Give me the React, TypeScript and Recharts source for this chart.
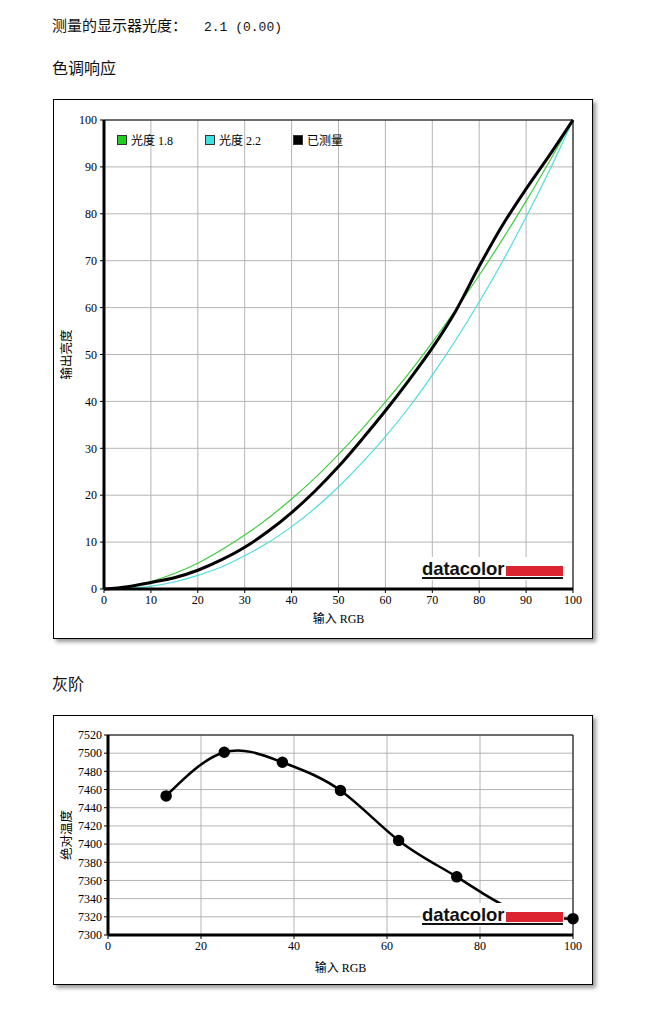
import React from 'react';
import { LineChart, Line, XAxis, YAxis, CartesianGrid, ReferenceLine } from 'recharts';

// Tone response: input RGB % vs output luminance %, two reference gammas + measured.
const INPUT = [0, 5, 10, 15, 20, 25, 30, 35, 40, 45, 50, 55, 60, 65, 70, 75, 80, 85, 90, 95, 100];
const GAMMA_18 = [0, 0.5, 1.6, 3.3, 5.5, 8.3, 11.5, 15.1, 19.2, 23.7, 28.7, 34.1, 39.9, 46.0, 52.6, 59.6, 66.9, 74.6, 82.7, 91.2, 100];
const GAMMA_22 = [0, 0.1, 0.6, 1.5, 2.9, 4.7, 7.1, 9.9, 13.3, 17.2, 21.8, 26.9, 32.5, 38.7, 45.6, 53.1, 61.2, 69.9, 79.3, 89.3, 100];
const MEASURED = [0, 0.5, 1.4, 2.4, 4.0, 6.2, 8.9, 12.3, 16.3, 20.9, 26.1, 31.9, 38.0, 44.5, 51.4, 59.3, 68.8, 77.6, 85.3, 92.5, 100];
const TONE_TICKS = [0, 10, 20, 30, 40, 50, 60, 70, 80, 90, 100];

// Grayscale: colour temperature per grey step.
const GRAY_INPUT = [12.5, 25, 37.5, 50, 62.5, 75, 87.5, 100];
const GRAY_TEMP = [7453, 7501, 7490, 7459, 7404, 7364, 7327, 7318];
const GRAY_X_TICKS = [0, 20, 40, 60, 80, 100];
const GRAY_Y_TICKS = [7300, 7320, 7340, 7360, 7380, 7400, 7420, 7440, 7460, 7480, 7500, 7520];

const LEGEND = [
  { label: '光度 1.8', color: '#22cc22' },
  { label: '光度 2.2', color: '#44dddd' },
  { label: '已测量', color: '#000000' },
];

const CJK = '"Noto Sans CJK SC", sans-serif';
const SERIF = '"Liberation Serif", "Noto Sans CJK SC", serif';
const TICK = { fill: '#000', fontSize: 12, fontFamily: SERIF };
const GRID = '#b4b4b4';

const toneData = INPUT.map((x, i) => ({
  x,
  g18: GAMMA_18[i],
  g22: GAMMA_22[i],
  measured: MEASURED[i],
}));

const grayData = GRAY_INPUT.map((x, i) => ({ x, temp: GRAY_TEMP[i] }));

function Box({ left, top, width, height, children }: any) {
  return (
    <div
      style={{
        position: 'absolute',
        left,
        top,
        width,
        height,
        boxSizing: 'border-box',
        border: '1px solid #000',
        background: '#fff',
        boxShadow: '3px 3px 4px rgba(0,0,0,0.4)',
      }}
    >
      {children}
    </div>
  );
}

// datacolor watermark; white patch hides whatever is drawn underneath
function Logo({ left, top }: { left: number; top: number }) {
  return (
    <div style={{ position: 'absolute', left, top: top - 3, width: 143, height: 23, background: '#fff' }}>
      <div
        style={{
          position: 'absolute',
          left: 1,
          top: 3,
          fontFamily: '"Liberation Sans", Arial, sans-serif',
          fontWeight: 'bold',
          fontSize: 18.5,
          lineHeight: '18px',
          color: '#111',
          letterSpacing: -0.1,
        }}
      >
        datacolor
      </div>
      <div style={{ position: 'absolute', left: 85, top: 9, width: 57, height: 10, background: '#dc2330' }} />
      <div style={{ position: 'absolute', left: 1, top: 20, width: 141, height: 2, background: '#111' }} />
    </div>
  );
}

function ToneChart() {
  return (
    <Box left={53} top={99} width={540} height={540}>
      <LineChart width={538} height={538} data={toneData} margin={{ top: 20, right: 19, left: 0, bottom: 0 }}>
        <CartesianGrid stroke={GRID} />
        <XAxis
          dataKey="x"
          type="number"
          domain={[0, 100]}
          ticks={TONE_TICKS}
          interval={0}
          height={49}
          tick={TICK}
          tickSize={4}
          tickLine={{ stroke: '#000' }}
          axisLine={{ stroke: '#000', strokeWidth: 3 }}
          label={{ value: '输入 RGB', position: 'insideBottom', offset: 15, fill: '#000', fontSize: 12, fontFamily: SERIF }}
        />
        <YAxis
          type="number"
          domain={[0, 100]}
          ticks={TONE_TICKS}
          interval={0}
          width={50}
          tick={TICK}
          tickSize={4}
          tickMargin={3}
          tickLine={{ stroke: '#000' }}
          axisLine={{ stroke: '#000', strokeWidth: 3 }}
          label={{
            value: '输出亮度',
            angle: -90,
            position: 'insideLeft',
            offset: 13,
            fill: '#000',
            fontSize: 12.5,
            fontFamily: CJK,
            style: { textAnchor: 'middle' },
          }}
        />
        <ReferenceLine y={100} stroke="#000" />
        <ReferenceLine x={100} stroke="#000" />
        <Line dataKey="g18" type="monotone" stroke="#3fcc3f" strokeWidth={1.2} dot={false} isAnimationActive={false} />
        <Line dataKey="g22" type="monotone" stroke="#4fdcdc" strokeWidth={1.2} dot={false} isAnimationActive={false} />
        <Line dataKey="measured" type="monotone" stroke="#000" strokeWidth={3} dot={false} isAnimationActive={false} />
      </LineChart>
      <div style={{ position: 'absolute', left: 63, top: 32, display: 'flex' }}>
        {LEGEND.map((it) => (
          <div key={it.label} style={{ width: 88, display: 'flex', alignItems: 'center', height: 16 }}>
            <span
              style={{
                display: 'inline-block',
                width: 8,
                height: 8,
                background: it.color,
                border: '1px solid #333',
                marginRight: 4,
              }}
            />
            <span style={{ fontFamily: SERIF, fontSize: 12, color: '#000' }}>{it.label}</span>
          </div>
        ))}
      </div>
      <Logo left={367} top={460} />
    </Box>
  );
}

function GrayChart() {
  return (
    <Box left={53} top={715} width={540} height={270}>
      <LineChart width={538} height={268} data={grayData} margin={{ top: 19, right: 19, left: 0, bottom: 0 }}>
        <CartesianGrid stroke={GRID} />
        <XAxis
          dataKey="x"
          type="number"
          domain={[0, 100]}
          ticks={GRAY_X_TICKS}
          interval={0}
          height={49}
          tick={TICK}
          tickSize={4}
          tickLine={{ stroke: '#000' }}
          axisLine={{ stroke: '#000', strokeWidth: 3 }}
          label={{ value: '输入 RGB', position: 'insideBottom', offset: 12, fill: '#000', fontSize: 12, fontFamily: SERIF }}
        />
        <YAxis
          type="number"
          domain={[7300, 7520]}
          ticks={GRAY_Y_TICKS}
          interval={0}
          width={54}
          tick={TICK}
          tickSize={4}
          tickMargin={2}
          tickLine={{ stroke: '#000' }}
          axisLine={{ stroke: '#000', strokeWidth: 3 }}
          label={{
            value: '绝对温度',
            angle: -90,
            position: 'insideLeft',
            offset: 13,
            fill: '#000',
            fontSize: 12.5,
            fontFamily: CJK,
            style: { textAnchor: 'middle' },
          }}
        />
        <ReferenceLine y={7520} stroke="#000" />
        <ReferenceLine x={100} stroke="#000" />
        <Line
          dataKey="temp"
          type="natural"
          stroke="#000"
          strokeWidth={2.5}
          dot={{ r: 4.5, fill: '#000', stroke: '#000' }}
          isAnimationActive={false}
        />
      </LineChart>
      <Logo left={367} top={190} />
    </Box>
  );
}

export default function App() {
  return (
    <div style={{ position: 'absolute', left: 0, top: 0, width: 652, height: 1010, background: '#fff', color: '#111' }}>
      <div style={{ position: 'absolute', left: 52, top: 15, lineHeight: '20px', fontSize: 15, fontFamily: CJK }}>
        测量的显示器光度：
        <span style={{ fontFamily: '"Liberation Mono", monospace', fontSize: 13, marginLeft: 17 }}>2.1 (0.00)</span>
      </div>
      <div style={{ position: 'absolute', left: 52, top: 57, lineHeight: '20px', fontSize: 16, fontFamily: CJK }}>
        色调响应
      </div>
      <ToneChart />
      <div style={{ position: 'absolute', left: 52, top: 673, lineHeight: '20px', fontSize: 16, fontFamily: CJK }}>
        灰阶
      </div>
      <GrayChart />
    </div>
  );
}
